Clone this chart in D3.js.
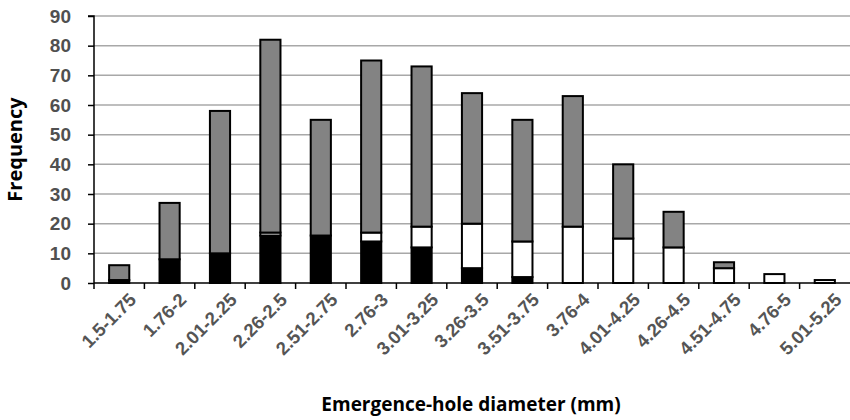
<!DOCTYPE html>
<html>
<head>
<meta charset="utf-8">
<script src="https://cdn.jsdelivr.net/npm/d3@7"></script>
<style>
  body { margin: 0; background: #fff; }
  svg { display: block; font-family: "Open Sans", "DejaVu Sans", sans-serif; }
</style>
</head>
<body>
<script>
const categories = ["1.5-1.75", "1.76-2", "2.01-2.25", "2.26-2.5", "2.51-2.75", "2.76-3", "3.01-3.25",
  "3.26-3.5", "3.51-3.75", "3.76-4", "4.01-4.25", "4.26-4.5", "4.51-4.75", "4.76-5", "5.01-5.25"];
const blackVals = [1, 8, 10, 16, 16, 14, 12, 5, 2, 0, 0, 0, 0, 0, 0];
const whiteVals = [0, 0, 0, 1, 0, 3, 7, 15, 12, 19, 15, 12, 5, 3, 1];
const grayVals  = [5, 19, 48, 65, 39, 58, 54, 44, 41, 44, 25, 12, 2, 0, 0];
const yTicks = [0, 10, 20, 30, 40, 50, 60, 70, 80, 90];

const w = 850, h = 420;
const m = { left: 94, right: 0, top: 16, bottom: 137 };

const svg = d3.select("body").append("svg").attr("width", w).attr("height", h);

const x = d3.scaleBand().domain(categories).range([m.left, w - m.right]).paddingInner(0).paddingOuter(0);
const y = d3.scaleLinear().domain([0, 90]).range([h - m.bottom, m.top]);

const rows = categories.map((c, i) => ({ cat: c, black: blackVals[i], white: whiteVals[i], gray: grayVals[i] }));
const stack = d3.stack().keys(["black", "white", "gray"])(rows);
const fills = { black: "#000", white: "#fff", gray: "#838383" };

// gridlines
svg.append("g")
  .selectAll("line")
  .data(yTicks.slice(1))
  .enter()
  .append("line")
  .attr("x1", m.left).attr("x2", w - m.right)
  .attr("y1", d => y(d)).attr("y2", d => y(d))
  .attr("stroke", "#a8a8a8").attr("stroke-width", 1.5);

// bars
const bw = x.bandwidth() * 0.4;
svg.append("g")
  .selectAll("g")
  .data(stack)
  .enter()
  .append("g")
  .attr("fill", d => fills[d.key])
  .selectAll("rect")
  .data(d => d.filter(s => s[1] > s[0]))
  .enter()
  .append("rect")
  .attr("x", d => x(d.data.cat) + (x.bandwidth() - bw) / 2)
  .attr("y", d => y(d[1]))
  .attr("width", bw)
  .attr("height", d => y(d[0]) - y(d[1]))
  .attr("stroke", "#000")
  .attr("stroke-width", 2);

// y axis
const yAxis = svg.append("g")
  .attr("transform", `translate(${m.left},0)`)
  .call(d3.axisLeft(y).tickValues(yTicks).tickSize(6).tickPadding(17));
yAxis.select(".domain").attr("stroke", "#000").attr("stroke-width", 1.5).attr("d", `M-6,${y(90)}H0V${y(0)}`);
yAxis.selectAll(".tick line").attr("stroke", "#000").attr("stroke-width", 1.5);
yAxis.selectAll("text").attr("fill", "#505050").style("font-size", "19px").style("font-weight", "600");

// x axis
const xAxis = svg.append("g")
  .attr("transform", `translate(0,${y(0)})`)
  .call(d3.axisBottom(x).tickSize(0).tickPadding(0));
xAxis.select(".domain").attr("stroke", "#000").attr("stroke-width", 1.5).attr("d", `M${m.left},0H${w}`);
xAxis.selectAll(".tick text")
  .attr("fill", "#555")
  .style("font-size", "18.5px")
  .style("font-weight", "600")
  .attr("text-anchor", "end")
  .attr("dy", "0")
  .attr("transform", "translate(18,18) rotate(-45)");

// x ticks between categories
svg.append("g")
  .selectAll("line")
  .data(categories)
  .enter()
  .append("line")
  .attr("x1", d => x(d)).attr("x2", d => x(d))
  .attr("y1", y(0)).attr("y2", y(0) + 6)
  .attr("stroke", "#000").attr("stroke-width", 1.5);

// axis titles
svg.append("text")
  .attr("transform", `translate(22,${(y(0) + y(90)) / 2}) rotate(-90)`)
  .attr("text-anchor", "middle")
  .style("font-size", "20px").style("font-weight", "700")
  .text("Frequency");

svg.append("text")
  .attr("x", 471).attr("y", 411)
  .attr("text-anchor", "middle")
  .style("font-size", "19px").style("font-weight", "700")
  .text("Emergence-hole diameter (mm)");
</script>
</body>
</html>
